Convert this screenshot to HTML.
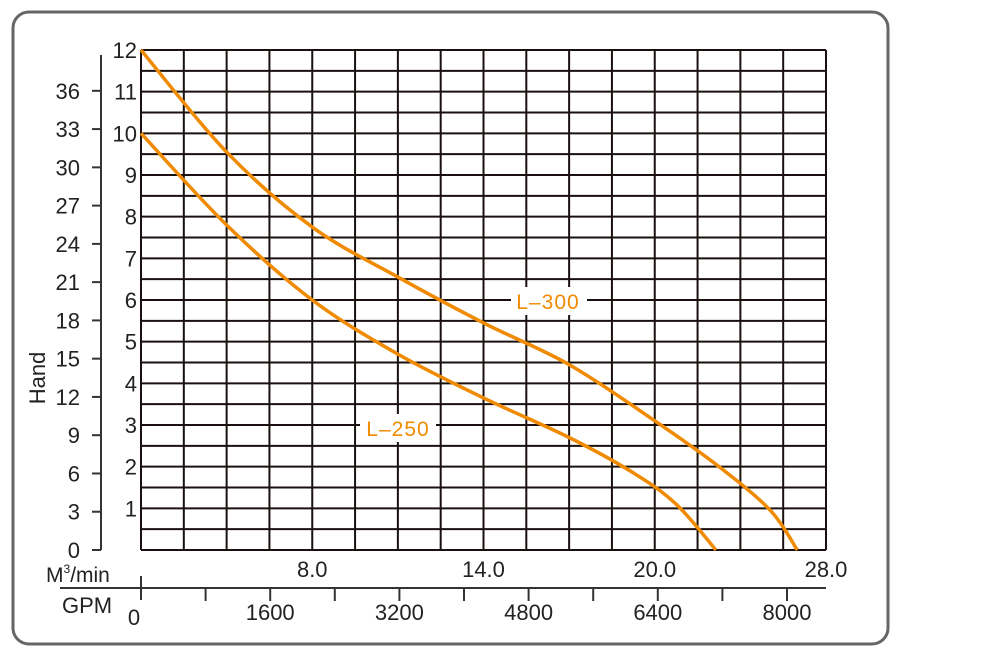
<!DOCTYPE html>
<html><head><meta charset="utf-8"><style>
body{margin:0;background:#fff;}
svg text{font-family:"Liberation Sans",sans-serif;}
</style></head><body>
<svg id="chart" width="1000" height="657" viewBox="0 0 1000 657" xmlns="http://www.w3.org/2000/svg">
<rect x="13" y="12" width="875" height="632" rx="16" fill="#fff" stroke="#666" stroke-width="3"/>
<g id="grid"></g>
<g id="axes"></g>
<g id="series"></g>
<text transform="translate(45,378) rotate(-90)" text-anchor="middle" font-size="22" fill="#222">Hand</text>
<text x="46" y="582" font-size="21" fill="#222">M<tspan font-size="12" dy="-9">3</tspan><tspan dy="9">/min</tspan></text>
<text x="62" y="613" font-size="22" fill="#222">GPM</text>
</svg>
<script>
const headTicks=[1,2,3,4,5,6,7,8,9,10,11,12];
const feetTicks=[0,3,6,9,12,15,18,21,24,27,30,33,36];
const m3Labels=["8.0","14.0","20.0","28.0"];
const m3Cols=[4,8,12,16];
const gpmTicks=[0,1600,3200,4800,6400,8000];
const l300X=[0,2,4,6,8,10,12,13.5,14.7,15.33];
const l300Y=[12,9.55,7.75,6.55,5.45,4.45,3.1,2.0,0.95,0];
const l250X=[0,2,4,6,8,10,11.5,12.5,13.43];
const l250Y=[10,7.8,6.0,4.7,3.65,2.7,1.85,1.1,0];
const X0=141,X1=826,Y0=550,Y1=50,NC=16;
const sx=c=>X0+(X1-X0)*c/NC;
const sy=h=>Y0-(Y0-Y1)*h/12;
const sf=f=>Y0-(Y0-Y1)*f/39.2;
const sg=g=>X0+g*(64.6/800);
const NS="http://www.w3.org/2000/svg";
function mk(tag,attrs,parent,txt){const e=document.createElementNS(NS,tag);for(const k in attrs)e.setAttribute(k,attrs[k]);if(txt!==undefined)e.textContent=txt;parent.appendChild(e);return e;}
const grid=document.getElementById('grid'),axes=document.getElementById('axes'),series=document.getElementById('series');
for(let i=0;i<=24;i++){const l=mk('line',{x1:X0,x2:X1,y1:sy(i/2),y2:sy(i/2),stroke:'#1a1010','stroke-width':2},grid);

}
for(let c=0;c<=NC;c++){const l=mk('line',{x1:sx(c),x2:sx(c),y1:Y1,y2:Y0,stroke:'#1a1010','stroke-width':2},grid);

}
headTicks.forEach(h=>{const t=mk('text',{x:137,y:sy(h)+8,'text-anchor':'end','font-size':22,fill:'#222'},axes,String(h));

});
mk('line',{x1:101,x2:101,y1:55,y2:Y0,stroke:'#333','stroke-width':2},axes);
feetTicks.forEach(f=>{const y=sf(f);mk('line',{x1:92,x2:101,y1:y,y2:y,stroke:'#333','stroke-width':2},axes);
const t=mk('text',{x:80,y:y+8,'text-anchor':'end','font-size':22,fill:'#222'},axes,String(f));

});
mk('line',{x1:60,x2:826,y1:588,y2:588,stroke:'#333','stroke-width':2},axes);
mk('line',{x1:X0,x2:X0,y1:576,y2:600,stroke:'#333','stroke-width':2},axes);
for(let k=1;k<=10;k++){const x=sg(k*800);mk('line',{x1:x,x2:x,y1:588,y2:601,stroke:'#333','stroke-width':2},axes);}
m3Labels.forEach((s,i)=>{const t=mk('text',{x:sx(m3Cols[i]),y:577,'text-anchor':'middle','font-size':22,fill:'#222'},axes,s);

});
gpmTicks.forEach(g=>{const t=mk('text',{x:g===0?134:sg(g),y:g===0?625:620,'text-anchor':'middle','font-size':22,fill:'#222'},axes,String(g));

});
function path(xs,ys){const p=xs.map((x,i)=>[sx(x),sy(ys[i])]);let d='M'+p[0][0]+','+p[0][1];
for(let i=0;i<p.length-1;i++){const a=p[Math.max(0,i-1)],b=p[i],c=p[i+1],e=p[Math.min(p.length-1,i+2)];
d+=` C${b[0]+(c[0]-a[0])/6},${b[1]+(c[1]-a[1])/6} ${c[0]-(e[0]-b[0])/6},${c[1]-(e[1]-b[1])/6} ${c[0]},${c[1]}`;}return d;}
const p1=mk('path',{d:path(l300X,l300Y),fill:'none',stroke:'#f08a00','stroke-width':3.5},series);


const p2=mk('path',{d:path(l250X,l250Y),fill:'none',stroke:'#f08a00','stroke-width':3.5},series);


[[511,287,'L-300',548,309],[360,414,'L-250',398,436]].forEach(([rx,ry,s,tx,ty])=>{
mk('rect',{x:rx,y:ry,width:76,height:28,fill:'#fff'},series);
const t=mk('text',{x:tx,y:ty,'text-anchor':'middle','font-size':21,fill:'#f08a00','letter-spacing':'1'},series,s.replace('-','\u2013'));

});
</script>
</body></html>
